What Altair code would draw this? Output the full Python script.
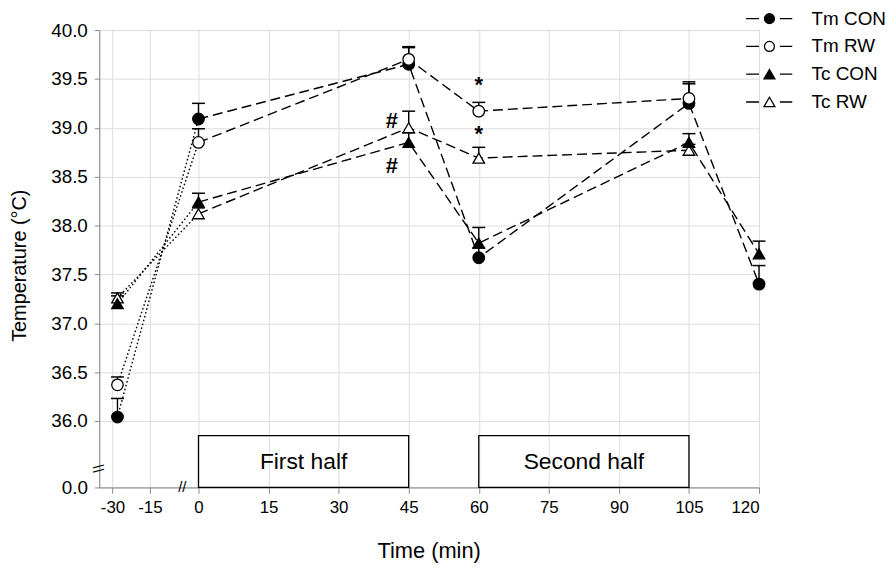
import altair as alt
import pandas as pd

# ---------------- data ----------------
series_names = ["Tm CON", "Tm RW", "Tc RW", "Tc CON"]  # drawing order
legend_order = ["Tm CON", "Tm RW", "Tc CON", "Tc RW"]

tm_con_time = [-28, 0, 45, 60, 105, 120]
tm_con_val = [36.04, 39.09, 39.65, 37.67, 39.25, 37.40]
tm_con_err = [0.19, 0.16, 0.17, 0.10, 0.20, 0.19]

tm_rw_time = [-28, 0, 45, 60, 105]
tm_rw_val = [36.37, 38.85, 39.70, 39.17, 39.30]
tm_rw_err = [0.08, 0.14, 0.13, 0.09, 0.17]

tc_con_time = [-28, 0, 45, 60, 105, 120]
tc_con_val = [37.20, 38.24, 38.85, 37.82, 38.85, 37.71]
tc_con_err = [0.08, 0.09, 0.10, 0.16, 0.09, 0.13]

tc_rw_time = [-28, 0, 45, 60, 105]
tc_rw_val = [37.26, 38.12, 39.00, 38.69, 38.77]
tc_rw_err = [0.05, 0.06, 0.17, 0.11, 0.06]

x_ticks = [-30, -15, 0, 15, 30, 45, 60, 75, 90, 105, 120]
y_ticks = [0.0, 36.0, 36.5, 37.0, 37.5, 38.0, 38.5, 39.0, 39.5, 40.0]

box_start = [0, 60]
box_end = [45, 105]
box_bottom = [0, 0]
box_top = [28, 28]
box_label = ["First half", "Second half"]
box_label_x = [22.5, 82.5]
box_label_y = [14, 14]

ann_time = [60, 60, 41.4, 41.4]
ann_value = [39.44, 38.94, 39.07, 38.61]
ann_text = ["*", "*", "#", "#"]

break_x = [-5, -35.3]
break_y = [0, 10.2]
break_text = ["//", "\\\\"]
break_angle = [0, 270]

# ---------------- tables ----------------
series_data = {
    "Tm CON": (tm_con_time, tm_con_val, tm_con_err),
    "Tm RW": (tm_rw_time, tm_rw_val, tm_rw_err),
    "Tc RW": (tc_rw_time, tc_rw_val, tc_rw_err),
    "Tc CON": (tc_con_time, tc_con_val, tc_con_err),
}
rows = []
for i, name in enumerate(series_names):
    t, v, e = series_data[name]
    for ti, vi, ei in zip(t, v, e):
        rows.append(dict(series=name, order=i, time=ti, value=vi, top=round(vi + ei, 3)))
df = pd.DataFrame(rows)
pre = df[df.time <= 0]
post = df[df.time >= 0]

boxes = pd.DataFrame(dict(start=box_start, end=box_end, bottom=box_bottom, top=box_top,
                          label=box_label, lx=box_label_x, ly=box_label_y))
ann = pd.DataFrame(dict(time=ann_time, value=ann_value, text=ann_text))
brk = pd.DataFrame(dict(time=break_x, value=break_y, text=break_text, angle=break_angle))

FONT = "Liberation Sans"

xs = alt.Scale(domain=[-35.3, -15, 0, 120], range=[0, 51, 100, 665], nice=False, zero=False)
ys = alt.Scale(domain=[0, 36, 40], range=[461, 394, 0], nice=False, zero=False)

x_axis = alt.Axis(values=x_ticks, labelExpr="'' + datum.value", title="Time (min)",
                  tickSize=6, labelPadding=6,
                  labelFontSize=17, titleFontSize=22, titleFontWeight="normal",
                  titleX=332, titleY=64, titleBaseline="middle", titleAlign="center")
y_axis = alt.Axis(values=y_ticks, format=".1f", title="Temperature (°C)", tickSize=5,
                  labelPadding=7, labelFontSize=19, titleFontSize=20, titleFontWeight="normal",
                  titleX=-80, titleY=237, titleAngle=270, titleAlign="center",
                  titleBaseline="middle")


def X(field):
    return alt.X(field, type="quantitative", scale=xs, axis=x_axis)


def Y(field):
    return alt.Y(field, type="quantitative", scale=ys, axis=y_axis)


dotted = alt.Chart(pre).mark_line(color="black", strokeWidth=1.4, strokeDash=[1.6, 2.4]).encode(
    x=X("time"), y=Y("value"), detail="series:N")

dashed = alt.Chart(post).mark_line(color="black", strokeWidth=1.4, strokeDash=[10, 5]).encode(
    x=X("time"), y=Y("value"), detail="series:N")

err_rule = alt.Chart(df).mark_rule(color="black", strokeWidth=1.4).encode(
    x=X("time"), y=Y("value"), y2="top")

err_cap = alt.Chart(df).mark_tick(color="black", orient="horizontal", size=13, thickness=1.5,
                                  opacity=1).encode(x=X("time"), y=Y("top"))

points = alt.Chart(df).mark_point(stroke="black", strokeWidth=1.3, opacity=1, fillOpacity=1,
                                  size=135).encode(
    x=X("time"), y=Y("value"),
    shape=alt.Shape("series:N", legend=None,
                    scale=alt.Scale(domain=legend_order,
                                    range=["circle", "circle", "triangle-up", "triangle-up"])),
    fill=alt.Fill("series:N", legend=None,
                  scale=alt.Scale(domain=legend_order,
                                  range=["black", "white", "black", "white"])),
    order="order:Q")

circ = "M-4.7,0H-2.1M2.1,0H4.6M1,0A1,1,0,1,1,-1,0A1,1,0,1,1,1,0Z"
tri = "M-4.7,0H-2.1M2.1,0H4.6M0,-0.95L1.1,0.95L-1.1,0.95Z"
leg = alt.Legend(orient="none", legendX=666, legendY=-21, labelFontSize=19, labelFont=FONT,
                 labelOffset=33, rowPadding=8, symbolSize=100, symbolStrokeWidth=1.3,
                 symbolStrokeColor="black", labelColor="black", labelLimit=300)
legend_layer = alt.Chart(df).transform_filter("datum.value < 0").mark_point(
    strokeWidth=1.3, opacity=1, fillOpacity=1, size=100).encode(
    x=X("time"), y=Y("value"),
    shape=alt.Shape("series:N", title=None, legend=leg,
                    scale=alt.Scale(domain=legend_order, range=[circ, circ, tri, tri])),
    fill=alt.Fill("series:N", title=None, legend=leg,
                  scale=alt.Scale(domain=legend_order,
                                  range=["black", "white", "black", "white"])),
    stroke=alt.Stroke("series:N", title=None, legend=leg,
                      scale=alt.Scale(domain=legend_order,
                                      range=["black", "black", "black", "black"])))

box_rect = alt.Chart(boxes).mark_rect(fillOpacity=0, stroke="black", strokeWidth=1.3).encode(
    x=X("start"), x2="end", y=Y("bottom"), y2="top")
box_text = alt.Chart(boxes).mark_text(font=FONT, fontSize=23, color="black").encode(
    x=X("lx"), y=Y("ly"), text="label:N")

ann_text_layer = alt.Chart(ann).mark_text(font=FONT, fontSize=22, color="black",
                                          fontWeight="bold", baseline="middle").encode(
    x=X("time"), y=Y("value"), text="text:N")

brk_layer = alt.Chart(brk).mark_text(font=FONT, fontSize=15, color="black",
                                     baseline="middle").encode(
    x=X("time"), y=Y("value"), text="text:N", angle=alt.Angle("angle:Q", scale=None))

chart = alt.layer(
    box_rect, box_text, dotted, dashed, err_rule, err_cap, points, legend_layer,
    ann_text_layer, brk_layer
).resolve_scale(shape="independent", fill="independent", stroke="independent").properties(
    width=665, height=461, autosize="none",
    padding={"left": 92, "top": 20, "right": 130, "bottom": 80},
).configure_view(strokeWidth=0).configure_axis(
    grid=False, domainColor="black", tickColor="black", labelColor="black",
    titleColor="black", domainWidth=1.3, tickWidth=1.3, labelFont=FONT, titleFont=FONT
).configure(background="white")

chart.save("out.html", embed_options={"renderer": "svg", "actions": False})
